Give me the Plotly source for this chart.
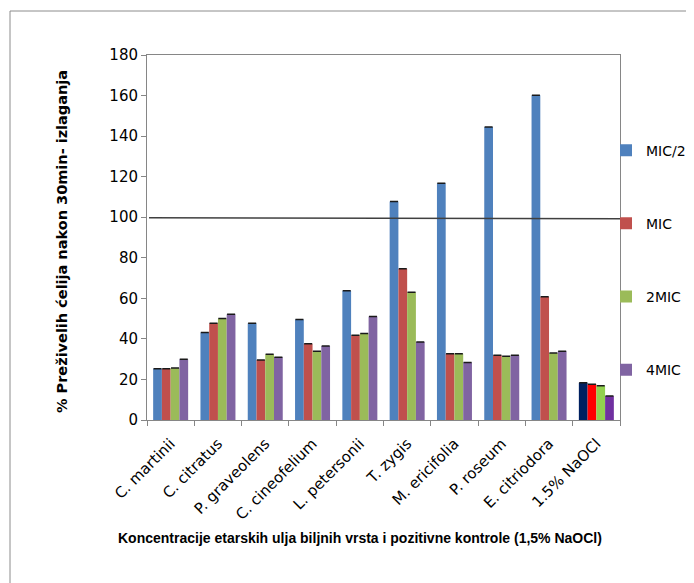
import plotly.graph_objects as go

categories = ["C. martinii", "C. citratus", "P. graveolens", "C. cineofelium", "L. petersonii",
              "T. zygis", "M. ericifolia", "P. roseum", "E. citriodora", "1.5% NaOCl"]
series_names = ["MIC/2", "MIC", "2MIC", "4MIC"]
mic_half = [25.3, 43.2, 47.7, 49.6, 63.8, 107.7, 116.7, 144.5, 160.1, 18.4]
mic = [25.3, 47.7, 29.6, 37.6, 41.8, 74.6, 32.7, 31.9, 60.8, 17.6]
mic2 = [25.6, 50.0, 32.4, 33.9, 42.7, 63.0, 32.7, 31.4, 33.0, 16.9]
mic4 = [29.9, 52.1, 31.0, 36.5, 51.1, 38.5, 28.4, 31.9, 33.9, 11.8]
values = [mic_half, mic, mic2, mic4]
series_colors = ["#4F81BD", "#C0504D", "#9BBB59", "#8064A2"]
control_colors = ["#002060", "#FF0000", "#92D050", "#7030A0"]
ref_line = [99.8, 99.2]

TICK_FONT = "DejaVu Sans"
# page body has an 8px margin; figure is sized so the plot area lands where the reference has it
W, H = 686, 575
L, T, R, B = 139, 47, 74, 163
PW, PH = W - L - R, H - T - B  # 473 x 365


def px_x(x):  # page x -> paper
    return (x - 8 - L) / PW


def px_y(y):  # page y -> paper
    return (H - B - (y - 8)) / PH


fig = go.Figure()
for name, vals, col, ccol in zip(series_names, values, series_colors, control_colors):
    colors = [col] * (len(categories) - 1) + [ccol]
    fig.add_trace(go.Bar(
        x=categories, y=vals, name=name,
        marker=dict(color=colors, line=dict(width=0)),
        error_y=dict(type="data", array=[0] * len(vals), visible=True,
                     thickness=1.5, width=4, color="#1a1a1a"),
        legendgroup=name,
    ))

fig.add_shape(type="line", xref="paper", yref="y", x0=px_x(149), x1=1.0,
              y0=ref_line[0], y1=ref_line[1], line=dict(color="#404040", width=1.5))
# outer chart frame
fig.add_shape(type="rect", xref="paper", yref="paper",
              x0=px_x(10), x1=px_x(720), y0=px_y(620), y1=px_y(11),
              line=dict(color="#8c8c8c", width=1), fillcolor="rgba(0,0,0,0)", layer="below")

fig.add_annotation(text="<b>% Preživelih ćelija nakon 30min- izlaganja</b>", textangle=-90,
                   xref="paper", yref="paper", x=px_x(62), y=px_y(242),
                   showarrow=False, font=dict(family=TICK_FONT, size=14.5, color="black"),
                   xanchor="center", yanchor="middle")
fig.add_annotation(text="<b>Koncentracije etarskih ulja biljnih vrsta i pozitivne kontrole (1,5% NaOCl)</b>",
                   xref="paper", yref="paper", x=px_x(359.5), y=px_y(538),
                   showarrow=False, font=dict(family="Liberation Sans", size=14, color="black"),
                   xanchor="center", yanchor="middle")

fig.update_layout(
    width=W, height=H,
    margin=dict(l=L, r=R, t=T, b=B, autoexpand=False),
    paper_bgcolor="white", plot_bgcolor="white",
    barmode="group", bargap=0.26, bargroupgap=0,
    font=dict(family=TICK_FONT, size=15, color="black"),
    legend=dict(x=px_x(606), xanchor="left", y=0.782, yanchor="top",
                font=dict(family=TICK_FONT, size=14, color="black"),
                tracegroupgap=52, itemwidth=30, bgcolor="rgba(0,0,0,0)",
                borderwidth=0),
    showlegend=True,
)
fig.update_xaxes(showline=True, linecolor="#868686", linewidth=1, mirror=True,
                 ticks="outside", ticklen=5, tickcolor="#868686", tickson="boundaries",
                 tickangle=-45, tickfont=dict(family=TICK_FONT, size=15, color="black"),
                 ticklabelstandoff=8, showgrid=False)
fig.update_yaxes(range=[0, 180], dtick=20, showline=True, linecolor="#868686", linewidth=1,
                 mirror=True, ticks="outside", ticklen=5, tickcolor="#868686",
                 tickfont=dict(family=TICK_FONT, size=15, color="black"),
                 showgrid=False, zeroline=False)

fig.write_html("out.html")
